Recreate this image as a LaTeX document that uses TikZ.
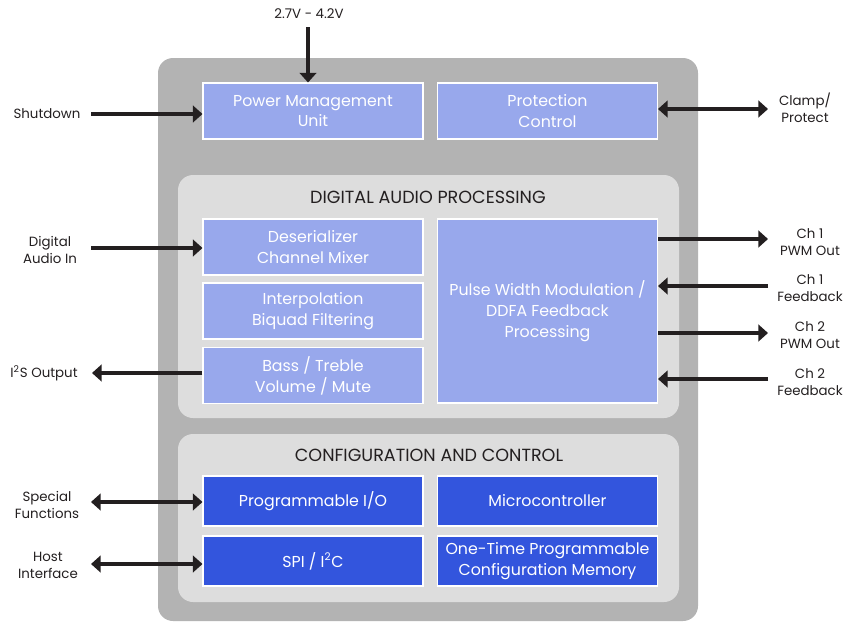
\documentclass[tikz,border=0pt]{standalone}
\usepackage{fontspec}
\setmainfont{Poppins}
\usetikzlibrary{arrows.meta}
\definecolor{chipgray}{HTML}{B3B3B3}
\definecolor{panelgray}{HTML}{DDDDDD}
\definecolor{lightblue}{HTML}{98A8EC}
\definecolor{darkblue}{HTML}{3355DD}
\definecolor{ink}{HTML}{231F20}
\tikzset{
  blk/.style={draw=white, line width=0.6pt, fill=lightblue, text=white, align=center,
    minimum width=4.4cm, minimum height=1.12cm, inner sep=0pt,
    font=\fontsize{9}{11.9}\selectfont},
  cfg/.style={blk, fill=darkblue, minimum height=1cm},
  lbl/.style={text=ink, align=center, inner sep=0pt, font=\fontsize{7.6}{9.6}\selectfont},
  ttl/.style={text=ink, inner sep=0pt, font=\fontsize{10}{11}\selectfont},
  sig/.style={draw=ink, line width=2.8pt, -{Triangle[length=5.5pt,width=9.5pt]}},
  bus/.style={sig, {Triangle[length=5.5pt,width=9.5pt]}-{Triangle[length=5.5pt,width=9.5pt]}},
}
\begin{document}
\begin{tikzpicture}[x=0.02cm,y=-0.02cm]
      \useasboundingbox (0,0) rectangle (859,623);
      % chip and panels
      \fill[chipgray, rounded corners=0.3cm] (158,58) rectangle (698,621);
      \fill[panelgray, rounded corners=0.3cm] (178,175) rectangle (679,418);
      \fill[panelgray, rounded corners=0.3cm] (178,434) rectangle (679,602);
      \node[ttl] (dap) at (428,197) {DIGITAL AUDIO PROCESSING};
      \node[ttl] (cac) at (429,455) {CONFIGURATION AND CONTROL};

      % blocks
      \node[blk] (pmu) at (313,111) {Power Management\\Unit};
      \node[blk] (prot) at (547.5,111) {Protection\\Control};
      \node[blk] (deser) at (313,247) {Deserializer\\Channel Mixer};
      \node[blk] (interp) at (313,311) {Interpolation\\Biquad Filtering};
      \node[blk] (tone) at (313,375.5) {Bass / Treble\\Volume / Mute};
      \node[blk, minimum height=3.68cm] (pwm) at (547.5,311) {Pulse Width Modulation /\\DDFA Feedback\\Processing};
      \node[cfg] (pio) at (313,501) {Programmable I/O};
      \node[cfg] (mcu) at (547.5,501) {Microcontroller};
      \node[cfg] (spi) at (313,561) {SPI / I\textsuperscript{2}C};
      \node[cfg] (otp) at (547.5,561) {One-Time Programmable\\Configuration Memory};

      % outside labels
      \node[lbl] (vinl) at (309,14) {2.7V - 4.2V};
      \node[lbl] (sdl) at (47,114) {Shutdown};
      \node[lbl] (clampl) at (805,108) {Clamp/\\Protect};
      \node[lbl] (dail) at (50,250) {Digital\\Audio In};
      \node[lbl] (i2sl) at (44,373) {I\textsuperscript{2}S Output};
      \node[lbl] (c1ol) at (810,242) {Ch 1\\PWM Out};
      \node[lbl] (c1fl) at (810,288) {Ch 1\\Feedback};
      \node[lbl] (c2ol) at (810,335) {Ch 2\\PWM Out};
      \node[lbl] (c2fl) at (810,382) {Ch 2\\Feedback};
      \node[lbl] (sfl) at (47,505) {Special\\Functions};
      \node[lbl] (hil) at (48,565) {Host\\Interface};

      % free ends of the arrows
      \coordinate (vin) at (308,27);
      \coordinate (sdin) at (91,114);
      \coordinate (clampio) at (768,109);
      \coordinate (dain) at (91,248);
      \coordinate (i2sout) at (92,373);
      \coordinate (c1out) at (768,239);
      \coordinate (c1fb) at (768,286);
      \coordinate (c2out) at (768,333);
      \coordinate (c2fb) at (768,379);
      \coordinate (sfio) at (91,502);
      \coordinate (hostio) at (91,564);

      \draw[sig] (vin) -- (vin |- pmu.north);
      \draw[sig] (sdin) -- (pmu.west |- sdin);
      \draw[bus] (prot.east |- clampio) -- (clampio);
      \draw[sig] (dain) -- (deser.west |- dain);
      \draw[sig] (tone.west |- i2sout) -- (i2sout);
      \draw[sig] (pwm.east |- c1out) -- (c1out);
      \draw[sig] (c1fb) -- (pwm.east |- c1fb);
      \draw[sig] (pwm.east |- c2out) -- (c2out);
      \draw[sig] (c2fb) -- (pwm.east |- c2fb);
      \draw[bus] (sfio) -- (pio.west |- sfio);
      \draw[bus] (hostio) -- (spi.west |- hostio);

\end{tikzpicture}
\end{document}
